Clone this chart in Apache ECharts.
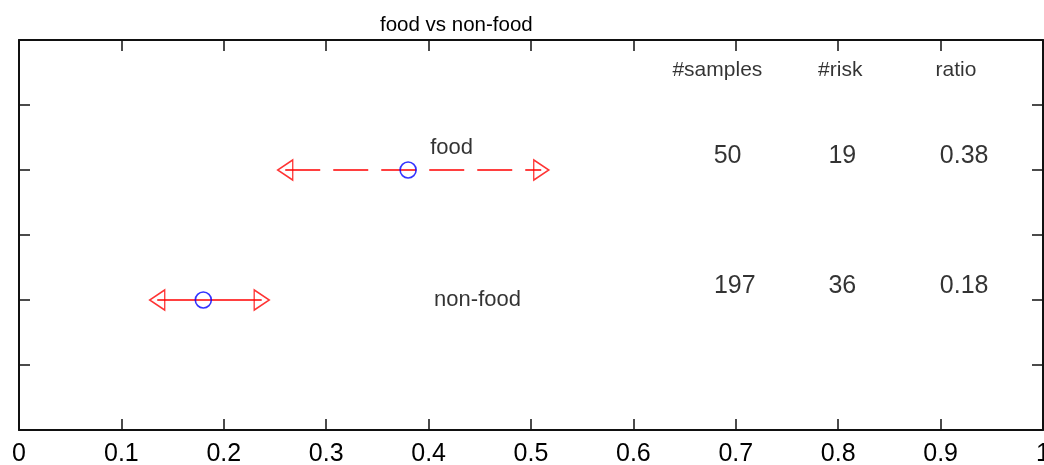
<html>
<head>
<title>food vs non-food</title>
<script src="https://cdn.jsdelivr.net/npm/echarts@6/dist/echarts.min.js"></script>
</head>
<body style="margin:0;background:#fff;">
<div id="main" style="width:1044px;height:465px;"></div>
<script type="text/javascript">

// data
var groups = ['food', 'non-food'];
var groupY = [2, 1];
var ratio = [0.38, 0.18];
var ciLow = [0.26, 0.135];
var ciHigh = [0.51, 0.237];
var samples = [50, 197];
var risk = [19, 36];
var headers = ['#samples', '#risk', 'ratio'];
var xTicks = [0, 0.1, 0.2, 0.3, 0.4, 0.5, 0.6, 0.7, 0.8, 0.9, 1];

var red = '#ff0000';
var blue = '#0000ff';
var font = 'Liberation Sans, Arial, sans-serif';

function textPoint(x, y, txt, size) {
    return {
        value: [x, y],
        label: { show: true, position: 'inside', formatter: txt, color: '#000',
                 fontSize: size, fontFamily: font, align: 'center', verticalAlign: 'middle' }
    };
}

var series = [];

// interval lines (food dashed, non-food solid)
for (var i = 0; i < groups.length; i++) {
    series.push({
        type: 'line',
        data: [[ciLow[i], groupY[i]], [ciHigh[i], groupY[i]]],
        symbol: 'none',
        lineStyle: { color: red, width: 1.5, type: i == 0 ? [35, 13] : 'solid' },
        silent: true, z: 2
    });
}

// left / right triangle markers
series.push({
    type: 'scatter',
    data: groups.map(function (g, i) { return [ciLow[i], groupY[i]]; }),
    symbol: 'triangle', symbolRotate: 90, symbolSize: [20, 15],
    itemStyle: { color: 'rgba(0,0,0,0)', borderColor: red, borderWidth: 1.5 },
    z: 3
});
series.push({
    type: 'scatter',
    data: groups.map(function (g, i) { return [ciHigh[i], groupY[i]]; }),
    symbol: 'triangle', symbolRotate: -90, symbolSize: [20, 15],
    itemStyle: { color: 'rgba(0,0,0,0)', borderColor: red, borderWidth: 1.5 },
    z: 3
});

// ratio circles
series.push({
    type: 'scatter',
    data: groups.map(function (g, i) { return [ratio[i], groupY[i]]; }),
    symbol: 'circle', symbolSize: 16,
    itemStyle: { color: 'rgba(0,0,0,0)', borderColor: blue, borderWidth: 1.6 },
    z: 4
});

// text annotations
var texts = [];
texts.push(textPoint(0.4224, 2.17, groups[0], 22));
texts.push(textPoint(0.4478, 1.0, groups[1], 22));
texts.push(textPoint(0.682, 2.77, headers[0], 21));
texts.push(textPoint(0.802, 2.77, headers[1], 21));
texts.push(textPoint(0.915, 2.77, headers[2], 21));
var rowY = [2.108, 1.108];
for (var i = 0; i < groups.length; i++) {
    texts.push(textPoint(i == 0 ? 0.692 : 0.699, rowY[i], String(samples[i]), 25));
    texts.push(textPoint(0.804, rowY[i], String(risk[i]), 25));
    texts.push(textPoint(0.923, rowY[i], ratio[i].toFixed(2), 25));
}
series.push({
    type: 'scatter',
    data: texts,
    symbolSize: 0.1,
    itemStyle: { color: 'rgba(0,0,0,0)' },
    silent: true, z: 5
});

var axisLine = { show: true, onZero: false, lineStyle: { color: '#111', width: 2 } };
var tick = { show: true, inside: true, length: 11, lineStyle: { color: '#111', width: 1.5 } };

var option = {
    animation: false,
    backgroundColor: '#fff',
    title: {
        text: 'food vs non-food',
        left: 380, top: 8, padding: 0,
        textStyle: { fontSize: 20.5, fontWeight: 'normal', color: '#000', fontFamily: font }
    },
    grid: { left: 19, right: 1, top: 40, bottom: 35, show: false,
            containLabel: false, outerBoundsMode: 'none' },
    xAxis: [
        {
            type: 'value', position: 'bottom', min: 0, max: 1, interval: 0.1,
            axisLine: axisLine, axisTick: tick, splitLine: { show: false },
            axisLabel: {
                color: '#000', fontSize: 25, margin: 3, fontFamily: font,
                formatter: function (v) {
                    for (var k = 0; k < xTicks.length; k++) {
                        if (Math.abs(xTicks[k] - v) < 1e-9) return String(xTicks[k]);
                    }
                    return '';
                }
            }
        },
        {
            type: 'value', position: 'top', min: 0, max: 1, interval: 0.1,
            axisLine: axisLine, axisTick: tick, splitLine: { show: false },
            axisLabel: { show: false }
        }
    ],
    yAxis: [
        {
            type: 'value', position: 'left', min: 0, max: 3, interval: 0.5,
            axisLine: axisLine, axisTick: tick, splitLine: { show: false },
            axisLabel: { show: false }
        },
        {
            type: 'value', position: 'right', min: 0, max: 3, interval: 0.5,
            axisLine: axisLine, axisTick: tick, splitLine: { show: false },
            axisLabel: { show: false }
        }
    ],
    series: series
};

var myChart = echarts.init(document.getElementById('main'));
myChart.setOption(option);
</script>
</body>
</html>
